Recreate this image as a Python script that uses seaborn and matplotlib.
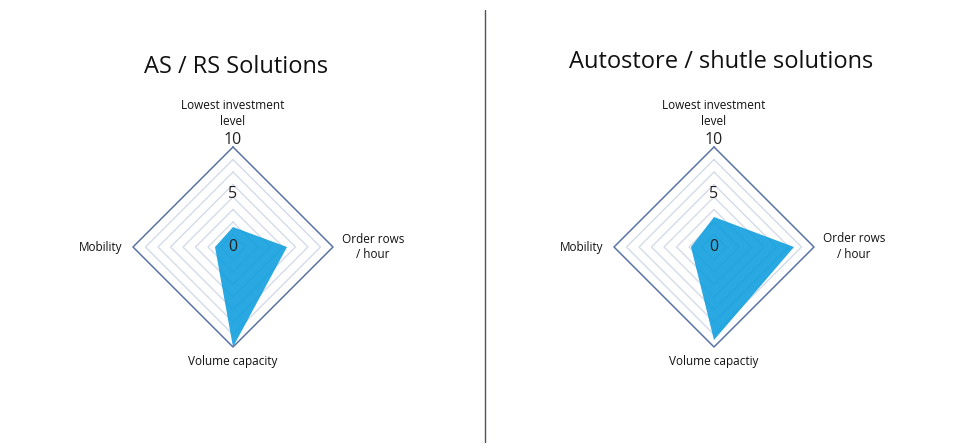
import numpy as np
import pandas as pd
import matplotlib
matplotlib.use("Agg")
import matplotlib.pyplot as plt
from matplotlib.lines import Line2D
import seaborn as sns

# data
axes_labels = ["Lowest investment\nlevel", "Order rows\n/ hour", "Volume capacity", "Mobility"]
axes_labels_right = ["Lowest investment\nlevel", "Order rows\n/ hour", "Volume capactiy", "Mobility"]
titles = ["AS / RS Solutions", "Autostore / shutle solutions"]
asrs_values = [2.0, 5.4, 10.0, 1.8]
autostore_values = [3.0, 8.0, 9.3, 2.3]
tick_values = [0, 5, 10]
ring_step = 1.25
r_max = 10

sns.set_theme(style="white")
plt.rcParams["font.family"] = ["Open Sans", "DejaVu Sans"]

# angles: top, right, bottom, left (clockwise)
angles = np.deg2rad([90, 0, 270, 180])


def to_xy(vals):
    vals = np.asarray(vals, dtype=float)
    x = vals * np.cos(angles)
    y = vals * np.sin(angles)
    return np.append(x, x[0]), np.append(y, y[0])


def radar(ax, values, labels, title_pos, title):
    # grid rings
    for lvl in np.arange(ring_step, r_max, ring_step):
        gx, gy = to_xy([lvl] * 4)
        ring = pd.DataFrame({"x": gx, "y": gy})
        sns.lineplot(data=ring, x="x", y="y", sort=False, estimator=None, ax=ax,
                     color="#d5dce8", linewidth=1.0, zorder=1)
    gx, gy = to_xy([r_max] * 4)
    sns.lineplot(x=gx, y=gy, sort=False, estimator=None, ax=ax, color="#5b74a8",
                 linewidth=1.1, zorder=3)

    # data polygon
    dx, dy = to_xy(values)
    ax.fill(dx, dy, color="#119fde", alpha=0.9, linewidth=0, zorder=2)

    # tick labels
    for t in tick_values:
        ax.text(0, t * 1.07, str(t), ha="center", va="center", fontsize=11.5,
                color="#222222", zorder=4)

    # axis labels
    ax.text(0, 11.9, labels[0], ha="center", va="bottom", fontsize=8.5,
            color="#111111", linespacing=1.3)
    ax.text(10.9, 0, labels[1], ha="left", va="center", fontsize=8.5,
            color="#111111", linespacing=1.3, multialignment="center")
    ax.text(0, -10.8, labels[2], ha="center", va="top", fontsize=8.5,
            color="#111111")
    ax.text(-11.1, 0, labels[3], ha="right", va="center", fontsize=8.5,
            color="#111111")

    ax.set_xlim(-14, 14)
    ax.set_ylim(-14, 14)
    ax.set_aspect("equal")
    ax.axis("off")
    ax.figure.text(title_pos[0], title_pos[1], title, ha="center", va="center",
                   fontsize=17, color="#111111")


W, H = 978, 448
fig = plt.figure(figsize=(W / 100, H / 100), dpi=100)

ax1 = fig.add_axes([(233 - 140) / W, (H - 247 - 140) / H, 280 / W, 280 / H])
ax2 = fig.add_axes([(714 - 140) / W, (H - 247 - 140) / H, 280 / W, 280 / H])

radar(ax1, asrs_values, axes_labels, (236 / W, 1 - 67 / H), titles[0])
radar(ax2, autostore_values, axes_labels_right, (721 / W, 1 - 62 / H), titles[1])

# divider line
fig.add_artist(Line2D([485 / W, 485 / W], [1 - 10 / H, 1 - 442 / H],
                      color="#4a5266", linewidth=1.0))

fig.savefig("out.png", dpi=100, facecolor="white")
